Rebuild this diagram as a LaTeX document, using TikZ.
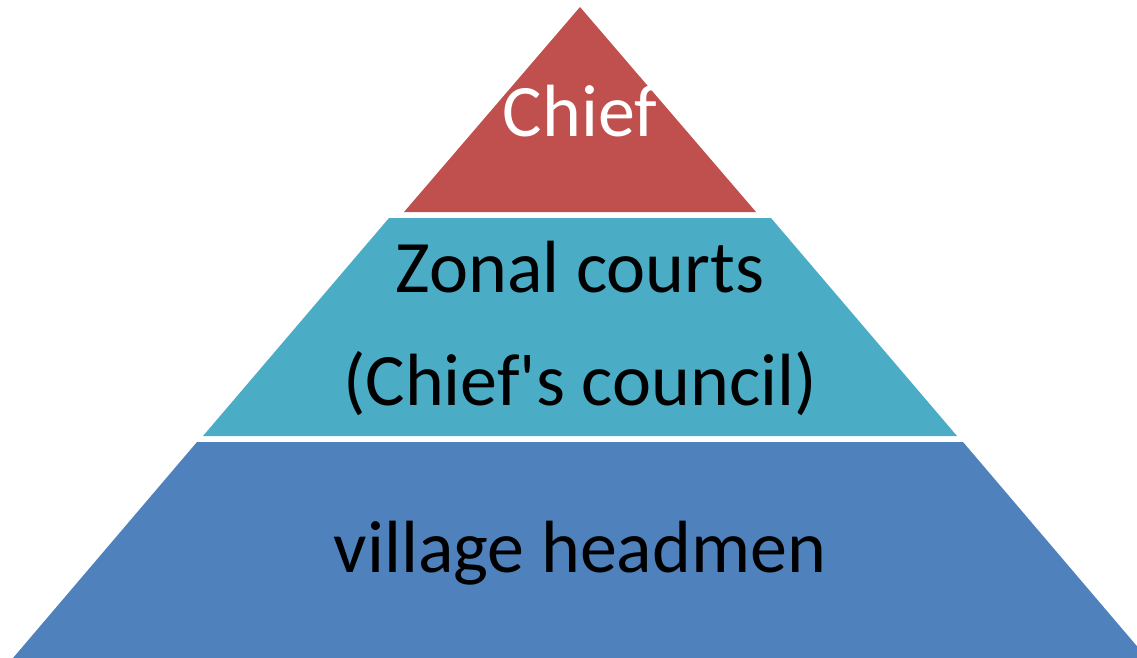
\documentclass[tikz,border=0pt]{standalone}
\usepackage{fontspec}
\setmainfont{Carlito}[Ligatures=TeXOff]
\usetikzlibrary{positioning}
\definecolor{chiefred}{HTML}{C0504D}
\definecolor{courtcyan}{HTML}{4BACC6}
\definecolor{headblue}{HTML}{4F81BD}

\begin{document}
\begin{tikzpicture}[x=1pt, y=-1pt,
    tierfill/.style={draw=none},
    tiertext/.style={font=\fontsize{74}{113}\selectfont, align=center, anchor=base, inner sep=0pt}]
    \useasboundingbox (0,0) rectangle (1137,658);
    \clip (0,0) rectangle (1137,658);
    % pyramid tiers
    \fill[tierfill, chiefred] (580,7) -- (756,212) -- (404,212) -- cycle;
    \fill[tierfill, courtcyan] (389,218) -- (771,218) -- (957,436) -- (203,436) -- cycle;
    \fill[tierfill, headblue] (197,442) -- (963,442) -- (1147,658) -- (13,658) -- cycle;
    % labels
    \node[tiertext, text=white] (chief) at (580,136) {Chief};
    \node[tiertext] (courts) at (580,405) {Zonal courts\\(Chief's council)};
    \node[tiertext] (headmen) at (580,572) {village headmen};
\end{tikzpicture}
\end{document}
